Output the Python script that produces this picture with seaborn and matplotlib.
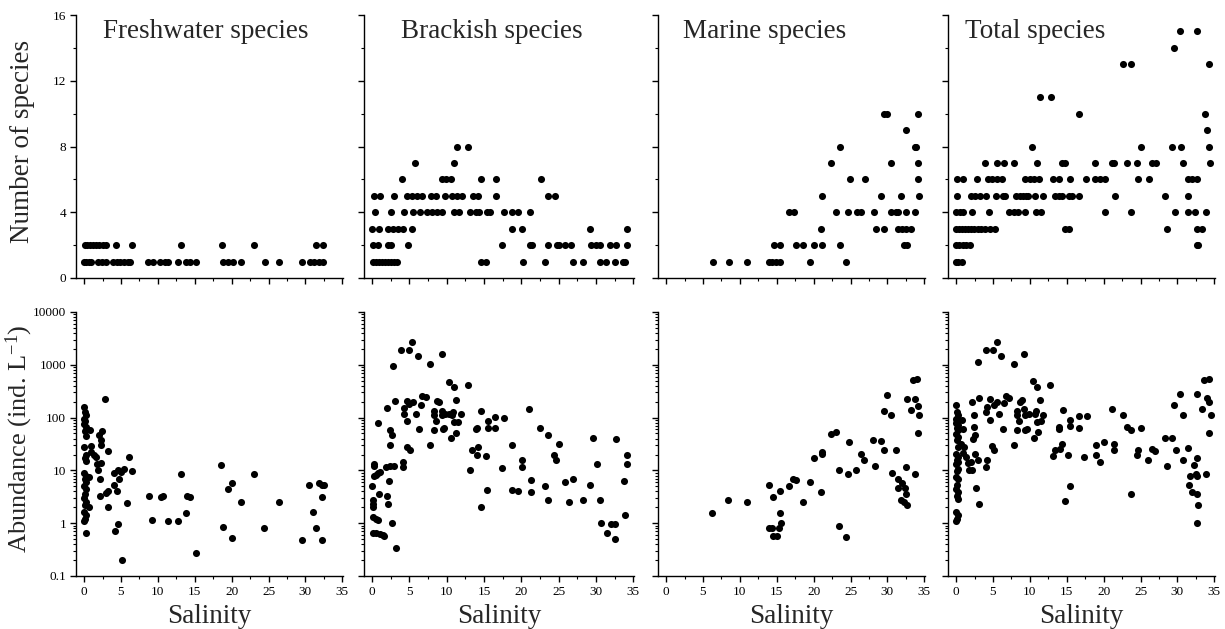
import numpy as np
import pandas as pd
import matplotlib
matplotlib.use("Agg")
import matplotlib.pyplot as plt
from matplotlib.ticker import FixedLocator, LogLocator, NullFormatter, FuncFormatter
import seaborn as sns

# ---------------- data: number of species ----------------
fw_n_sal = [0.1, 0.4, 0.8, 1.2, 1.6, 2.0, 2.5, 3.0, 4.3, 6.5, 13.2, 18.7, 23.1, 31.4, 32.4,
            0.05, 0.3, 0.6, 1.0, 1.9, 2.4, 2.9, 3.9, 4.4, 4.9, 5.4, 5.9, 6.2, 8.7, 9.3, 10.3, 10.9,
            11.4, 12.7, 13.8, 14.3, 15.2, 18.8, 19.5, 20.2, 21.3, 24.5, 26.4, 29.6, 30.6, 31.2, 31.8, 32.4]
fw_n_cnt = [2] * 15 + [1] * 33

br_n_sal = [11.4, 12.8,
            5.7, 11.0,
            4.0, 9.3, 9.9, 10.5, 14.6, 16.6, 22.6,
            0.2, 1.0, 2.9, 4.7, 5.3, 6.0, 6.7, 7.9, 8.6, 9.7, 10.7, 11.4, 12.0, 13.5, 14.2, 16.6, 23.6, 24.5,
            0.4, 2.5, 4.3, 5.5, 6.4, 7.3, 8.0, 8.7, 9.4, 10.9, 11.6, 13.1, 13.9, 14.3, 15.4, 15.8, 17.7, 18.8, 19.6, 21.1,
            0.0, 0.9, 2.1, 2.8, 3.4, 4.1, 5.3, 18.7, 20.1, 29.2, 34.1,
            0.1, 0.8, 2.1, 2.5, 4.8, 17.4, 21.2, 21.4, 23.6, 24.8, 25.1, 25.9, 26.6, 29.3, 30.0, 30.6, 31.9, 32.7, 34.1,
            0.1, 0.5, 0.9, 1.3, 1.7, 2.1, 2.5, 2.9, 3.3, 14.6, 15.3, 20.2, 23.2, 26.9, 28.2, 30.5, 31.4, 32.5, 33.6, 33.9]
br_n_cnt = [8] * 2 + [7] * 2 + [6] * 7 + [5] * 18 + [4] * 20 + [3] * 11 + [2] * 19 + [1] * 20

ma_n_sal = [29.5, 30.0, 34.1,
            32.5,
            23.6, 33.7, 33.9,
            22.4, 30.5, 34.1,
            24.9, 26.9, 34.1,
            21.2, 29.1, 31.9, 34.3,
            16.6, 17.3, 23.1, 24.6, 25.9, 26.4, 28.2, 30.5, 31.2, 31.5, 32.5, 33.7,
            21.0, 28.4, 29.6, 31.4, 32.0, 32.5, 33.2,
            14.6, 15.4, 17.6, 18.6, 20.0, 21.2, 23.6, 32.3, 32.6,
            6.3, 8.5, 11.0, 13.9, 14.3, 14.9, 15.4, 19.5, 24.4]
ma_n_cnt = [10] * 3 + [9] + [8] * 3 + [7] * 3 + [6] * 3 + [5] * 4 + [4] * 12 + [3] * 7 + [2] * 9 + [1] * 9

to_n_sal = [30.3, 32.7,
            29.6,
            22.6, 23.7, 34.3,
            11.4, 12.8,
            16.7, 33.7,
            34.0,
            10.3, 25.0, 29.3, 30.5, 34.3,
            3.9, 5.6, 6.5, 7.9, 10.9, 14.3, 14.7, 18.8, 21.1, 21.4, 23.2, 24.5, 26.5, 27.1, 30.8, 34.4,
            0.1, 0.9, 2.8, 4.3, 4.9, 5.5, 6.2, 9.4, 10.0, 10.6, 11.3, 13.1, 14.0, 15.5, 17.6, 18.8, 19.5,
            20.2, 24.7, 26.1, 31.5, 32.0, 32.7,
            0.1, 2.0, 2.5, 3.2, 4.1, 5.4, 6.4, 6.6, 8.1, 8.6, 9.1, 9.5, 9.8, 10.7, 11.8, 13.4, 13.9, 14.3,
            15.3, 15.7, 16.6, 21.5, 28.3, 31.4,
            0.0, 0.5, 1.0, 2.1, 4.4, 7.2, 7.8, 8.4, 9.4, 10.8, 11.5, 20.2, 23.7, 29.7, 31.5, 32.4, 33.9,
            0.0, 0.4, 0.8, 1.2, 1.6, 2.0, 2.4, 2.9, 3.4, 3.9, 4.6, 5.3, 14.7, 15.3, 28.6, 32.7, 33.4,
            0.0, 0.4, 0.9, 1.4, 1.9, 32.6, 32.8,
            0.0, 0.3, 0.8]
to_n_cnt = ([15] * 2 + [14] + [13] * 3 + [11] * 2 + [10] * 2 + [9] + [8] * 5 + [7] * 16 + [6] * 23
            + [5] * 24 + [4] * 17 + [3] * 17 + [2] * 7 + [1] * 3)

# ---------------- data: abundance (ind. L-1) ----------------
fw_a_sal = [0.0, 0.1, 0.2, 0.05, 0.15, 0.0, 0.2, 0.1, 0.3, 0.0, 0.2, 0.1, 0.3, 0.0, 0.2, 0.1, 0.3,
            0.0, 0.2, 0.1, 0.0, 0.2, 0.1, 0.0, 0.2, 0.1, 0.0, 0.2,
            0.8, 0.7, 1.0, 1.3, 1.6, 1.8, 1.9, 0.7, 0.9, 2.0, 2.3, 2.4, 2.3, 2.3, 2.1, 2.1, 2.8, 2.9,
            3.2, 3.2, 3.2, 4.2, 4.1, 4.1, 4.4, 4.6, 4.7, 4.6, 5.2, 5.0, 5.4, 6.1, 5.8, 6.5,
            8.8, 9.2, 10.4, 10.7, 11.4, 12.7, 13.1, 13.8, 14.0, 14.3, 15.2, 18.6, 18.8, 19.5, 20.0,
            20.0, 21.3, 23.1, 24.4, 26.4, 29.5, 30.5, 31.1, 31.4, 31.8, 32.2, 32.3, 32.3, 32.5]
fw_a_val = [160, 130, 110, 95, 85, 75, 65, 55, 45, 28, 20, 17, 15, 9, 8, 7, 6,
            5, 4.5, 3.5, 3, 2.5, 2.2, 1.6, 1.4, 1.2, 1.1, 0.65,
            57, 2.0, 29, 20, 18, 13, 10, 7.5, 22, 46, 14, 55, 37, 30, 7, 3.3, 230, 3.7,
            4.0, 23, 2.0, 0.7, 8.8, 5.4, 4.0, 10.2, 7.0, 0.95, 0.2, 9.3, 10.7, 18.3, 2.4, 9.9,
            3.25, 1.17, 3.1, 3.25, 1.12, 1.12, 8.4, 1.57, 3.25, 3.2, 0.27, 12.4, 0.84, 4.5, 5.7,
            0.52, 2.5, 8.4, 0.82, 2.5, 0.49, 5.4, 1.66, 0.8, 5.7, 5.4, 3.2, 0.49, 5.4]

br_a_sal = [5.4, 3.8, 5.0, 6.1, 9.3, 7.8, 2.8, 10.3, 11.0, 12.8, 6.7, 7.2, 3.1, 4.7, 5.0, 5.5,
            8.7, 9.0, 6.5, 11.3, 2.0, 4.3, 4.2, 5.9, 8.3, 8.3, 8.5, 4.7, 9.3, 9.4, 9.8, 10.3,
            10.7, 10.8, 10.9, 11.5, 11.9, 6.3, 8.3, 9.5, 9.6, 11.2, 10.5, 7.8, 0.8, 2.4, 2.6, 2.4,
            4.7, 5.1, 4.1, 4.1, 1.9, 2.4, 2.9, 0.0, 0.2, 0.2, 0.2, 0.5, 0.8, 1.0, 0.9, 0.1, 0.1,
            0.1, 2.2, 2.0, 2.1, 0.1, 0.5, 0.8, 0.1, 0.5, 1.0, 1.4, 1.6, 2.7, 3.2,
            14.6, 13.9, 14.0, 13.4, 14.2, 14.1, 15.5, 15.5, 16.5, 16.5, 17.7, 15.3, 13.1, 14.6,
            15.4, 17.4, 18.8, 18.7, 19.6, 20.1, 20.1, 21.0, 21.3, 21.3, 22.5, 23.6, 23.2, 23.6,
            24.4, 24.6, 25.0, 25.9, 26.9, 26.4, 28.3, 29.2, 29.6, 30.2, 30.6, 30.7, 31.5, 32.0,
            32.5, 32.6, 32.7, 33.7, 33.9, 34.2, 34.2]
br_a_val = [2700, 1900, 1900, 1500, 1600, 1050, 930, 480, 380, 420, 260, 245, 210, 210, 180, 195,
            210, 195, 177, 220, 150, 150, 118, 118, 136, 110, 88, 86, 136, 110, 115, 118,
            110, 128, 82, 82, 115, 60, 57, 60, 63, 51, 41, 30, 80, 57, 47, 30,
            27.5, 24, 14.3, 11.8, 11.5, 12, 12, 5, 13.3, 12, 7.8, 8.2, 9, 9.3, 3.5, 2.8, 2.0,
            2.3, 6.4, 3.25, 2.3, 1.3, 1.2, 1.17, 0.66, 0.66, 0.63, 0.6, 0.58, 1.0, 0.34,
            136, 60, 63, 24, 27.5, 20, 86, 64, 102, 64, 100, 18.6, 10.4, 2.0,
            4.2, 11, 30, 4.2, 4.0, 15.4, 11.5, 147, 6.7, 3.9, 63, 46, 5, 2.7,
            20, 16, 31, 6, 6.9, 2.5, 2.7, 5.2, 41, 13.3, 2.8, 1.0, 0.66, 0.95,
            0.97, 0.5, 38.5, 6.4, 1.44, 20, 13.3]

ma_a_sal = [6.2, 8.4, 11.0, 14.0, 13.9, 14.3, 14.5, 14.5, 15.1, 15.3, 15.4, 15.6, 15.4, 16.6,
            17.2, 17.6, 18.6, 19.5, 20.0, 21.0, 21.2, 21.2, 22.4, 23.0, 23.5, 23.5, 24.4, 24.6,
            24.8, 25.8, 26.4, 26.8, 28.1, 28.3, 29.2, 29.5, 29.6, 30.0, 30.5, 30.6, 31.2, 31.4,
            31.4, 31.8, 32.0, 32.3, 32.4, 32.5, 32.6, 32.5, 32.6, 33.2, 33.7, 33.5, 34.0, 33.8,
            34.1, 34.3, 34.1]
ma_a_val = [1.57, 2.7, 2.5, 5.3, 0.8, 0.8, 3.1, 0.58, 0.56, 0.8, 1.57, 1.0, 4.0, 5,
            6.9, 6.5, 2.5, 6, 17.3, 3.9, 20.5, 22, 49, 53, 10.4, 0.88, 0.54, 8.4,
            34, 10, 20.5, 16, 38, 12, 36, 136, 24, 265, 110, 8.9, 24, 6.9,
            4.7, 2.8, 5.7, 2.5, 4.7, 3.6, 2.25, 11.5, 227, 140, 8.4, 505, 530, 230,
            167, 110, 50]

to_a_sal = [0.0, 0.1, 0.2, 0.05, 0.15, 0.0, 0.2, 0.1, 0.3, 0.0, 0.2, 0.1, 0.3, 0.0, 0.2, 0.1,
            0.3, 0.0, 0.2, 0.1, 0.0, 0.2, 0.1, 0.0, 0.2, 0.1, 0.3, 0.0, 0.2, 0.1, 0.0,
            0.8, 0.9, 0.7, 1.1, 1.0, 1.4, 1.6, 1.8, 2.2, 2.0, 2.1, 2.3, 2.4, 2.5, 2.4, 2.5, 2.7,
            2.9, 3.0, 3.1, 3.1, 4.1, 4.2, 4.1, 4.2, 4.1, 4.6, 4.6, 4.8, 5.1, 5.1, 5.0, 5.5, 5.5,
            5.8, 6.1, 6.4, 6.5, 6.7, 7.2, 7.9, 7.9, 8.2, 8.3, 8.5, 8.3, 8.7, 8.9, 9.2, 9.2, 9.3,
            9.3, 9.6, 9.9, 10.4, 10.5, 10.7, 10.8, 10.9, 11.0, 11.1, 11.4, 11.5, 11.8, 12.7,
            13.1, 13.4, 13.9, 14.0, 14.1, 14.3, 14.5, 14.7, 15.2, 15.4, 15.5, 15.5, 16.6, 16.7,
            17.4, 17.7, 18.9, 18.9, 19.5, 20.1, 21.4, 21.4, 21.1, 22.6, 23.2, 23.7, 23.7, 24.5,
            24.6, 25.0, 26.0, 26.6, 27.0, 28.3, 28.6, 29.3, 29.6, 29.8, 30.3, 30.7, 30.8, 31.4,
            31.6, 31.7, 32.0, 32.2, 32.5, 32.6, 32.6, 32.7, 32.7, 32.8, 32.6, 33.4, 33.9, 33.6,
            34.3, 34.0, 34.3, 34.5, 34.3]
to_a_val = [170, 127, 110, 95, 88, 79, 71, 63, 57, 49, 42, 37, 27.5, 20.5, 17.8, 16,
            14.3, 13.3, 10.7, 9.7, 7.4, 6.9, 5.2, 4.5, 3.9, 3.3, 2.9, 1.6, 1.4, 1.2, 1.1,
            90, 61, 32, 27.5, 21, 18, 13.7, 10, 10, 14.3, 195, 40, 66, 47, 110, 20.5, 4.6,
            1130, 16, 237, 2.3, 1900, 158, 127, 15.5, 11.8, 92, 227, 29, 24, 177, 1900, 2700, 195,
            118, 1500, 61, 190, 255, 237, 1050, 30, 136, 110, 86, 57, 195, 220, 1600, 143, 110,
            57, 61, 118, 490, 41, 118, 136, 82, 375, 53, 220, 86, 113, 420,
            18.6, 24, 61, 66, 25, 31, 140, 2.6, 19.3, 5, 90, 68, 64, 107,
            18.3, 105, 30, 19.3, 14.3, 34, 31, 24, 147, 113, 66, 57, 3.6, 20,
            24, 64, 16, 25, 23, 41, 12, 41, 177, 24, 280, 110, 15.5, 26,
            5.2, 7.7, 3.9, 12.4, 8.6, 7.7, 17, 275, 3.5, 2.25, 1.0, 143, 8.4, 505,
            540, 232, 195, 110, 50]

titles = ["Freshwater species", "Brackish species", "Marine species", "Total species"]
count_sets = [(fw_n_sal, fw_n_cnt), (br_n_sal, br_n_cnt), (ma_n_sal, ma_n_cnt), (to_n_sal, to_n_cnt)]
abund_sets = [(fw_a_sal, fw_a_val), (br_a_sal, br_a_val), (ma_a_sal, ma_a_val), (to_a_sal, to_a_val)]

# ---------------- styling ----------------
sns.set_style("ticks")
plt.rcParams["font.family"] = ["Liberation Serif", "DejaVu Serif"]
plt.rcParams["mathtext.fontset"] = "custom"
plt.rcParams["mathtext.rm"] = "Liberation Serif"
plt.rcParams["mathtext.it"] = "Liberation Serif:italic"
plt.rcParams["axes.linewidth"] = 1.0

fig = plt.figure(figsize=(12.25, 6.29), dpi=100)

W, H = 1225.0, 629.0
lefts = [76, 364, 658, 948]
widths = [267, 270, 267, 267]
title_x = [0.10, 0.137, 0.094, 0.064]

def style_common(ax):
    sns.despine(ax=ax)
    for s in ["left", "bottom"]:
        ax.spines[s].set_color("black")
        ax.spines[s].set_linewidth(1.0)
    ax.tick_params(which="major", direction="out", length=4, width=1, colors="black",
                   labelsize=9.5, pad=3)
    ax.tick_params(which="minor", direction="out", length=2.5, width=0.8, colors="black")
    ax.set_xlim(-1.1, 35.1)
    ax.xaxis.set_major_locator(FixedLocator([0, 5, 10, 15, 20, 25, 30, 35]))
    ax.xaxis.set_minor_locator(FixedLocator([2.5, 7.5, 12.5, 17.5, 22.5, 27.5, 32.5]))
    ax.set_facecolor("white")

for i in range(4):
    l = lefts[i] / W
    w = widths[i] / W
    # top row
    ax = fig.add_axes([l, 1 - 278 / H, w, (278 - 15) / H])
    sx, sy = count_sets[i]
    df = pd.DataFrame({"Salinity": sx, "Species": sy})
    sns.scatterplot(data=df, x="Salinity", y="Species", ax=ax, color="black",
                    s=26, linewidth=0, legend=False, clip_on=False)
    style_common(ax)
    ax.set_ylim(0, 16)
    ax.yaxis.set_major_locator(FixedLocator([0, 4, 8, 12, 16]))
    ax.yaxis.set_minor_locator(FixedLocator([2, 6, 10, 14]))
    ax.set_xticklabels([])
    ax.set_xlabel("")
    if i == 0:
        ax.set_ylabel("Number of species", fontsize=19.5)
        ax.yaxis.set_label_coords(-0.155, 0.52)
    else:
        ax.set_yticklabels([])
        ax.set_ylabel("")
    ax.text(title_x[i], 0.985, titles[i], transform=ax.transAxes, ha="left", va="top",
            fontsize=19.5)

    # bottom row
    ax2 = fig.add_axes([l, 1 - 576 / H, w, (576 - 312) / H])
    ax2.set_yscale("log")
    ax_, ay_ = abund_sets[i]
    df2 = pd.DataFrame({"Salinity": ax_, "Abundance": ay_})
    sns.scatterplot(data=df2, x="Salinity", y="Abundance", ax=ax2, color="black",
                    s=26, linewidth=0, legend=False, clip_on=False)
    style_common(ax2)
    ax2.set_ylim(0.1, 10000)
    ax2.yaxis.set_major_locator(FixedLocator([0.1, 1, 10, 100, 1000, 10000]))
    ax2.yaxis.set_minor_locator(LogLocator(base=10, subs=np.arange(2, 10), numticks=20))
    ax2.yaxis.set_minor_formatter(NullFormatter())
    if i == 0:
        ax2.yaxis.set_major_formatter(FuncFormatter(lambda v, p: ("%g" % v)))
        ax2.set_ylabel("Abundance (ind. L$^{-1}$)", fontsize=19)
        ax2.yaxis.set_label_coords(-0.155, 0.52)
    else:
        ax2.set_yticklabels([])
        ax2.set_ylabel("")
    ax2.set_xlabel("Salinity", fontsize=19.5)
    ax2.xaxis.set_label_coords(0.5, -0.106)

fig.savefig("out.png", dpi=100, facecolor="white")
